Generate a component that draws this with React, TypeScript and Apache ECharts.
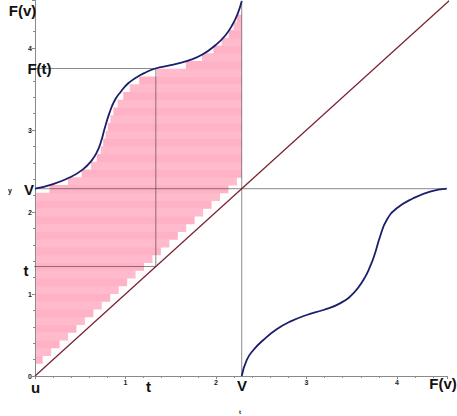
import React, { useEffect, useRef } from 'react';
import * as echarts from 'echarts';

// ---- values ----
const V = 2.284;          // V on both axes
const T = 1.335;          // t on both axes
const FT = 3.75;          // F(t)
const X_MAX = 4.55;
const Y_MAX = 4.58;
const DIAG_END = 4.6;

// upper-left curve F(v), v in [0, V]
const upperCurveX = [0, 0.2, 0.4, 0.53, 0.62, 0.68, 0.73, 0.77, 0.82, 0.88, 0.95, 1.03, 1.12, 1.2, 1.33, 1.5, 1.7, 1.85, 2.0, 2.1, 2.18, 2.24, 2.284];
const upperCurveY = [2.284, 2.34, 2.43, 2.52, 2.62, 2.72, 2.86, 3.02, 3.2, 3.36, 3.47, 3.57, 3.64, 3.69, 3.75, 3.79, 3.85, 3.92, 4.04, 4.15, 4.28, 4.42, 4.57];

// lower-right curve
const lowerCurveX = [2.284, 2.339, 2.413, 2.523, 2.67, 2.818, 3.002, 3.186, 3.37, 3.517, 3.628, 3.702, 3.757, 3.812, 3.886, 3.997, 4.18, 4.365, 4.55];
const lowerCurveY = [0, 0.195, 0.317, 0.439, 0.569, 0.663, 0.744, 0.805, 0.886, 1.008, 1.171, 1.333, 1.496, 1.699, 1.902, 2.045, 2.167, 2.248, 2.284];

// pink horizontal strips: edges (46), left and right ends (45)
const rowEdges = [0.155, 0.249, 0.344, 0.438, 0.533, 0.627, 0.722, 0.816, 0.911, 1.005, 1.1, 1.194, 1.289, 1.383, 1.478, 1.572, 1.667, 1.761, 1.856, 1.95, 2.045, 2.139, 2.234, 2.328, 2.423, 2.517, 2.612, 2.706, 2.801, 2.895, 2.99, 3.084, 3.179, 3.273, 3.368, 3.462, 3.557, 3.651, 3.746, 3.84, 3.935, 4.029, 4.124, 4.218, 4.313, 4.407];
const rowLeft = [0.012, 0.012, 0.012, 0.012, 0.012, 0.012, 0.012, 0.012, 0.012, 0.012, 0.012, 0.012, 0.012, 0.012, 0.012, 0.012, 0.012, 0.012, 0.012, 0.012, 0.012, 0.012, 0.16, 0.364, 0.515, 0.62, 0.683, 0.726, 0.754, 0.78, 0.805, 0.833, 0.867, 0.913, 0.975, 1.047, 1.151, 1.345, 1.667, 1.845, 1.972, 2.063, 2.14, 2.195, 2.23];
const rowRight = [0.085, 0.178, 0.272, 0.365, 0.458, 0.552, 0.645, 0.738, 0.831, 0.925, 1.018, 1.111, 1.205, 1.298, 1.391, 1.485, 1.578, 1.671, 1.764, 1.858, 1.951, 2.044, 2.138, 2.231, 2.284, 2.284, 2.284, 2.284, 2.284, 2.284, 2.284, 2.284, 2.284, 2.284, 2.284, 2.284, 2.284, 2.284, 2.284, 2.284, 2.284, 2.284, 2.284, 2.284, 2.284];

const PINK_A = '#ffb2c5';
const PINK_B = '#ffbacb';
const GUIDE = 'rgba(60,60,60,0.6)';
const NAVY = '#1b1f6b';
const MAROON = '#7b2230';
const FONT = '"Liberation Sans", Arial, sans-serif';

const seg = (name: string, pts: number[][], color: string, width: number, z: number) => ({
  name,
  type: 'line',
  data: pts,
  symbol: 'none',
  silent: true,
  clip: false,
  z,
  lineStyle: { color, width },
});

const label = (text: string, x: number, y: number, size = 15) => ({
  type: 'text',
  x,
  y,
  style: {
    text,
    fill: '#111',
    font: `bold ${size}px ${FONT}`,
    align: 'center',
    verticalAlign: 'middle',
  },
  z: 100,
});

const intOnly = (v: number) => (Number.isInteger(v) ? String(v) : '');

export default function App() {
  const ref = useRef<HTMLDivElement>(null);

  useEffect(() => {
    document.body.style.margin = '0';
    if (!ref.current) return;
    const chart = echarts.init(ref.current, undefined, { renderer: 'svg' });

    const rows = rowLeft.map((l, i) => [l, rowRight[i], rowEdges[i], rowEdges[i + 1], i % 2]);

    const axisCommon = {
      type: 'value',
      min: 0,
      interval: 1,
      splitLine: { show: false },
      axisLine: { show: true, lineStyle: { color: '#8a8a8a', width: 1 } },
      axisTick: { show: true, length: 3, lineStyle: { color: '#8a8a8a' } },
      minorTick: { show: true, splitNumber: 5, length: 2, lineStyle: { color: '#8a8a8a' } },
      axisLabel: {
        color: '#222',
        fontSize: 7,
        fontWeight: 'bold',
        fontFamily: FONT,
        margin: 3,
        showMaxLabel: false,
        formatter: intOnly,
      },
    };

    chart.setOption({
      animation: false,
      backgroundColor: '#ffffff',
      grid: { left: 35, top: 0.44, width: 411.8, height: 375.56 },
      xAxis: {
        ...axisCommon,
        max: X_MAX,
        axisLabel: {
          ...axisCommon.axisLabel,
          formatter: (v: number) => (v === 0 || !Number.isInteger(v) ? '' : String(v)),
        },
      },
      yAxis: {
        ...axisCommon,
        max: Y_MAX,
      },
      series: [
        {
          name: 'strips',
          type: 'custom',
          silent: true,
          clip: false,
          z: 1,
          encode: { x: [0, 1], y: [2, 3] },
          data: rows,
          renderItem: (params: any, api: any) => {
            const a = api.coord([api.value(0), api.value(3)]);
            const b = api.coord([api.value(1), api.value(2)]);
            return {
              type: 'rect',
              shape: { x: a[0], y: a[1], width: b[0] - a[0], height: b[1] - a[1] + 0.5 },
              style: { fill: api.value(4) ? PINK_B : PINK_A },
            };
          },
        },
        seg('V horizontal', [[0, V], [X_MAX, V]], GUIDE, 1, 3),
        seg('V vertical', [[V, 0], [V, Y_MAX]], GUIDE, 1, 3),
        seg('F(t) horizontal', [[-0.06, FT], [T, FT]], GUIDE, 1, 3),
        seg('t vertical', [[T, T], [T, FT]], GUIDE, 1, 3),
        seg('t horizontal', [[-0.06, T], [T, T]], GUIDE, 1, 3),
        seg('diagonal', [[0, 0], [DIAG_END, DIAG_END]], MAROON, 1.3, 4),
        {
          ...seg('F upper', upperCurveX.map((x, i) => [x, upperCurveY[i]]), NAVY, 1.8, 5),
          smooth: 0.5,
        },
        {
          ...seg('F lower', lowerCurveX.map((x, i) => [x, lowerCurveY[i]]), NAVY, 1.8, 5),
          smooth: 0.5,
        },
      ],
      graphic: [
        label('F(v)', 22.5, 10.5),
        label('F(t)', 39.5, 68),
        label('V', 29, 189),
        label('t', 26, 270),
        label('u', 35.5, 387),
        label('t', 148.5, 386),
        label('V', 242, 385),
        label('F(v)', 443, 383),
        label('y', 10, 190, 7),
        label('t', 240, 412, 6),
      ],
    });

    return () => chart.dispose();
  }, []);

  return (
    <div
      ref={ref}
      style={{ position: 'fixed', left: 0, top: 0, width: 457, height: 416 }}
    />
  );
}
